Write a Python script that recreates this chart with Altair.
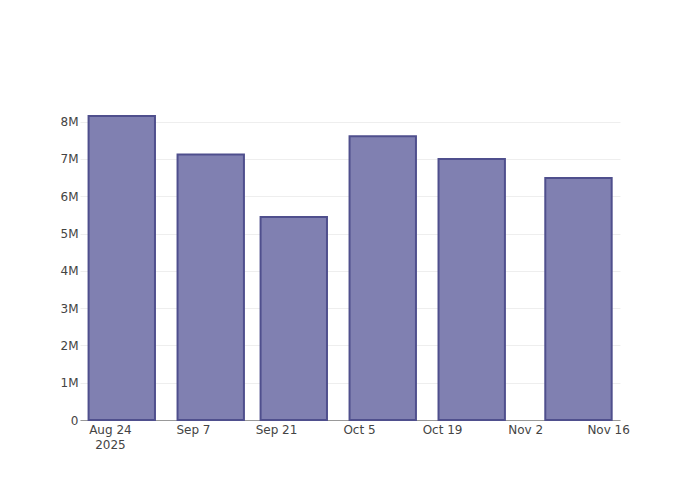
import altair as alt
import pandas as pd

dates = ["2025-08-26", "2025-09-10", "2025-09-24", "2025-10-09", "2025-10-24", "2025-11-11"]
values = [8150000, 7120000, 5440000, 7610000, 7000000, 6490000]
tick_dates = [(8, 24), (9, 7), (9, 21), (10, 5), (10, 19), (11, 2), (11, 16)]
y_ticks = [0, 1e6, 2e6, 3e6, 4e6, 5e6, 6e6, 7e6, 8e6]

df = pd.DataFrame({"date": dates, "value": values})

tick_vals = [alt.DateTime(year=2025, month=m, date=d, utc=True) for m, d in tick_dates]

FONT = "DejaVu Sans"

x_axis = alt.Axis(
    values=tick_vals,
    title=None,
    grid=False,
    ticks=False,
    domain=True,
    domainColor="#999999",
    domainWidth=1.2,
    labelExpr="utcFormat(datum.value, '%m-%d') == '08-24' ? [utcFormat(datum.value, '%b %-d'), '2025'] : utcFormat(datum.value, '%b %-d')",
    labelFont=FONT,
    labelFontSize=12,
    labelColor="#444444",
    labelPadding=4,
    labelLineHeight=15,
    labelFlush=False,
    labelOverlap=False,
    labelBound=False,
)

y_axis = alt.Axis(
    values=y_ticks,
    labelExpr="datum.value == 0 ? '0' : format(datum.value / 1000000, 'd') + 'M'",
    title=None,
    grid=True,
    gridColor="#eeeeee",
    gridWidth=1,
    ticks=False,
    domain=False,
    labelFont=FONT,
    labelFontSize=12,
    labelColor="#444444",
    labelPadding=2,
)

chart = (
    alt.Chart(df)
    .mark_bar(size=66.4, color="#8080b1", stroke="#4f4f8d", strokeWidth=2)
    .encode(
        x=alt.X(
            "date:T",
            scale=alt.Scale(
                type="utc",
                padding=0,
                domain=[
                    alt.DateTime(year=2025, month=8, date=18, hours=23, utc=True),
                    alt.DateTime(year=2025, month=11, date=18, hours=0, utc=True),
                ],
            ),
            axis=x_axis,
        ),
        y=alt.Y("value:Q", scale=alt.Scale(domain=[0, 8580000], nice=False, padding=0), axis=y_axis),
    )
    .properties(
        width=540,
        height=320,
        autosize=alt.AutoSizeParams(type="none"),
        padding={"left": 72, "top": 92, "right": 72, "bottom": 72},
        background="white",
    )
    .configure_view(stroke=None)
)

chart.save("out.html", embed_options={"renderer": "svg", "actions": False})
